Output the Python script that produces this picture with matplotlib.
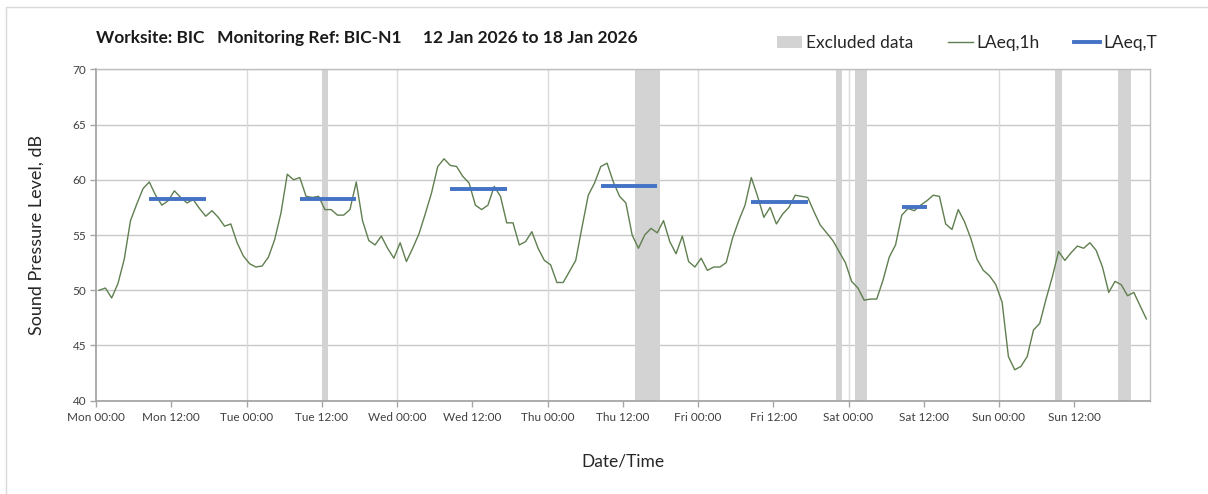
import matplotlib
matplotlib.use("Agg")
import matplotlib.pyplot as plt
from matplotlib.patches import Rectangle, Patch
from matplotlib.lines import Line2D

plt.rcParams['font.family'] = ['Lato', 'DejaVu Sans']

# Hourly LAeq,1h values (dB), Mon 00:00 .. Sun 23:00
laeq_1h = [
    50.0, 50.2, 49.3, 50.6, 52.8, 56.3, 57.8, 59.2, 59.8, 58.6,
    57.7, 58.1, 59.0, 58.4, 57.9, 58.2, 57.4, 56.7, 57.2, 56.6,
    55.8, 56.0, 54.3, 53.1, 52.4, 52.1, 52.2, 53.0, 54.6, 57.0,
    60.5, 60.0, 60.2, 58.5, 58.4, 58.5, 57.3, 57.3, 56.8, 56.8,
    57.3, 59.8, 56.3, 54.5, 54.1, 54.9, 53.8, 52.9, 54.3, 52.6,
    53.8, 55.1, 56.9, 58.8, 61.2, 61.9, 61.3, 61.2, 60.3, 59.7,
    57.7, 57.3, 57.7, 59.4, 58.5, 56.1, 56.1, 54.1, 54.4, 55.3,
    53.8, 52.7, 52.3, 50.7, 50.7, 51.7, 52.7, 55.7, 58.6, 59.7,
    61.2, 61.5, 59.8, 58.5, 57.9, 55.0, 53.8, 55.0, 55.6, 55.2,
    56.3, 54.4, 53.3, 54.9, 52.6, 52.1, 52.9, 51.8, 52.1, 52.1,
    52.5, 54.7, 56.3, 57.7, 60.2, 58.5, 56.6, 57.5, 56.0, 56.9,
    57.5, 58.6, 58.5, 58.4, 57.1, 55.9, 55.2, 54.5, 53.5, 52.5,
    50.8, 50.2, 49.1, 49.2, 49.2, 50.9, 53.0, 54.1, 56.8, 57.4,
    57.2, 57.7, 58.1, 58.6, 58.5, 56.0, 55.5, 57.3, 56.2, 54.7,
    52.8, 51.8, 51.3, 50.5, 48.9, 44.0, 42.8, 43.1, 44.0, 46.4,
    47.0, 49.2, 51.2, 53.5, 52.7, 53.4, 54.0, 53.8, 54.3, 53.6,
    52.1, 49.8, 50.8, 50.5, 49.5, 49.8, 48.6, 47.4,
]

# LAeq,T periods: (start hour, end hour, level dB)
laeqT_start = [8, 32, 56, 80, 104, 128]
laeqT_end = [17, 41, 65, 89, 113, 132]
laeqT_level = [58.3, 58.3, 59.2, 59.4, 58.0, 57.5]

# Excluded data periods (hours from Mon 00:00)
excl_start = [36, 86, 118, 121, 153, 163]
excl_end = [37, 90, 119, 123, 154, 165]

tick_labels = ["Mon 00:00", "Mon 12:00", "Tue 00:00", "Tue 12:00", "Wed 00:00",
               "Wed 12:00", "Thu 00:00", "Thu 12:00", "Fri 00:00", "Fri 12:00",
               "Sat 00:00", "Sat 12:00", "Sun 00:00", "Sun 12:00"]

W, H = 1208, 494
fig = plt.figure(figsize=(W / 100, H / 100), dpi=100)
ax = fig.add_axes([96 / W, 1 - 400.7 / H, (1149.5 - 96) / W, (400.7 - 69.3) / H])

# figure border (light grey, left/top visible)
fig.patches.append(Rectangle((5.5 / W, -0.1), 1.2, 1 - 7.5 / H + 0.1,
                             transform=fig.transFigure, fill=False,
                             edgecolor='#d9d9d9', linewidth=1.0))

for s, e in zip(excl_start, excl_end):
    ax.axvspan(s, e, color='#d3d3d3', linewidth=0, zorder=1)

hours = [i + 0.5 for i in range(len(laeq_1h))]
ax.plot(hours, laeq_1h, color='#5f7f4f', linewidth=1.0, zorder=3)

for s, e, v in zip(laeqT_start, laeqT_end, laeqT_level):
    ax.plot([s + 0.5, e + 0.5], [v, v], color='#4472c4', linewidth=2.8,
            solid_capstyle='butt', zorder=4)

ax.set_xlim(0, 168)
ax.set_ylim(40, 70)
ax.set_xticks(range(0, 168, 12))
ax.set_xticklabels(tick_labels)
ax.set_yticks(range(40, 71, 5))

# grid: horizontal every 5 dB, vertical every 24 h
for y in range(45, 71, 5):
    ax.axhline(y, color='#c8c8c8', linewidth=1.0, zorder=0.5)
for x in range(24, 168, 24):
    ax.axvline(x, color='#dadada', linewidth=1.0, zorder=0.5)

for sp in ['left', 'bottom']:
    ax.spines[sp].set_color('#a6a6a6')
    ax.spines[sp].set_linewidth(1.3)
for sp in ['top', 'right']:
    ax.spines[sp].set_color('#bfbfbf')
    ax.spines[sp].set_linewidth(1.0)

ax.tick_params(axis='both', colors='#a6a6a6', labelcolor='#404040',
               labelsize=8.5, length=4, width=1)
ax.tick_params(axis='x', pad=4)
ax.tick_params(axis='y', pad=3)

ax.set_ylabel("Sound Pressure Level, dB", fontsize=13, color='#262626', labelpad=20)
ax.set_xlabel("Date/Time", fontsize=12.5, color='#262626', labelpad=22)

fig.text(96 / W, 1 - 38 / H, "Worksite: BIC   Monitoring Ref: BIC-N1     12 Jan 2026 to 18 Jan 2026",
         fontsize=12.5, fontweight='bold', color='#1a1a1a', va='center', ha='left')

handles = [Patch(facecolor='#d3d3d3', edgecolor='none'),
           Line2D([], [], color='#5f7f4f', linewidth=1.0),
           Line2D([], [], color='#4472c4', linewidth=2.8)]
leg = fig.legend(handles, ["Excluded data", "LAeq,1h", "LAeq,T"], ncol=3,
                 loc='center', bbox_to_anchor=(967 / W, 1 - 43 / H), frameon=False,
                 fontsize=12.5, handlelength=1.45, handleheight=0.75, columnspacing=2.0,
                 handletextpad=0.2, labelcolor='#262626')

fig.savefig("out.png", dpi=100, facecolor='white')
